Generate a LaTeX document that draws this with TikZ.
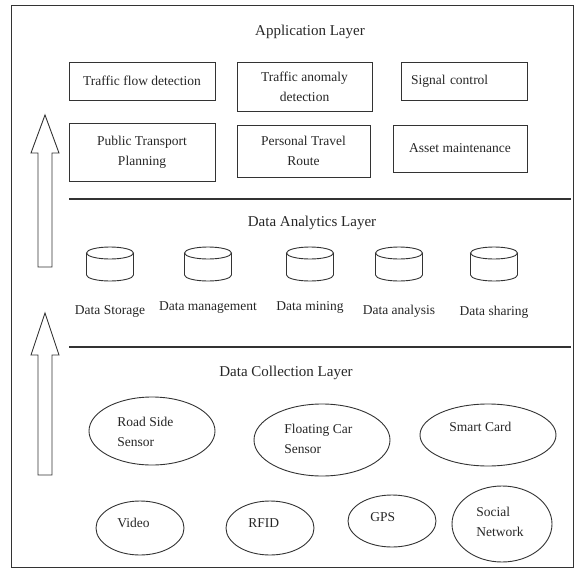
\documentclass[tikz,border=0pt]{standalone}
\usepackage{fontspec}
\setmainfont{Liberation Serif}
\usetikzlibrary{shapes.geometric}
\begin{document}
\begin{tikzpicture}[x=1pt,y=-1pt,line width=.9pt,draw=black!80,text=black!85,
  layer/.style={font=\fontsize{15}{18}\selectfont},
  item/.style={font=\fontsize{13.5}{20}\selectfont},
  appbox/.style={item,draw,rectangle,align=center,inner sep=2pt},
  source/.style={draw,ellipse,inner sep=0pt},
  tag/.style={item,inner sep=0pt,anchor=west,align=left}]
\useasboundingbox (0,0) rectangle (574,571);
\draw[line width=.8pt] (11,5) rectangle (573,567);
\node[layer] (applayer) at (310,32) {Application Layer};
\node[appbox,minimum width=146pt,minimum height=38pt] (flow) at (142,81) {Traffic flow detection};
\node[appbox,minimum width=135pt,minimum height=49pt] (anomaly) at (304.5,86.5) {Traffic anomaly\\detection};
\node[appbox,minimum height=38pt,align=left,inner xsep=10pt,text width=106pt] (signal) at (464,81) {Signal control};
\node[appbox,minimum width=146pt,minimum height=58pt] (transport) at (142,152) {Public Transport\\Planning};
\node[appbox,minimum width=133pt,minimum height=52pt] (route) at (303.5,151) {Personal Travel\\Route};
\node[appbox,minimum width=134pt,minimum height=47pt] (asset) at (460,148.5) {Asset maintenance};
\coordinate (sepA1) at (69,199);
\coordinate (sepA2) at (571,199);
\draw[line width=1.2pt] (sepA1) -- (sepA2);
\node[layer] (analayer) at (312,223) {Data Analytics Layer};
\foreach \x/\y/\n/\t in {110/311/storage/Data Storage,208/308/management/Data management,310/307/mining/Data mining,399/311/analysis/Data analysis,494/312/sharing/Data sharing}{
  \draw (\x-23.5,253) -- (\x-23.5,275) arc[start angle=180,end angle=360,x radius=23.5pt,y radius=6pt] -- (\x+23.5,253);
  \draw (\x,253) ellipse[x radius=23.5pt,y radius=6pt];
  \node[item] (\n) at (\x,\y) {\t};
}
\coordinate (sepB1) at (69,347);
\coordinate (sepB2) at (571,347);
\draw[line width=1.2pt] (sepB1) -- (sepB2);
\node[layer] (collayer) at (286,373) {Data Collection Layer};
\node[source,minimum width=126pt,minimum height=68pt] (roadside) at (152,431) {};
\node[source,minimum width=136pt,minimum height=72pt] (floating) at (322,440) {};
\node[source,minimum width=136pt,minimum height=62pt] (smartcard) at (488,435) {};
\node[source,minimum width=88pt,minimum height=54pt] (video) at (140,528) {};
\node[source,minimum width=88pt,minimum height=54pt] (rfid) at (270,528) {};
\node[source,minimum width=88pt,minimum height=52pt] (gps) at (392,521) {};
\node[source,minimum width=100pt,minimum height=76pt] (social) at (502,524) {};
\node[tag] (roadsidetxt) at (117,432) {Road Side\\Sensor};
\node[tag] (floatingtxt) at (284,439) {Floating Car\\Sensor};
\node[tag] (smartcardtxt) at (449,427) {Smart Card};
\node[tag] (videotxt) at (117,523) {Video};
\node[tag] (rfidtxt) at (248,523) {RFID};
\node[tag] (gpstxt) at (370,517) {GPS};
\node[tag] (socialtxt) at (476,522) {Social\\Network};
\draw (38,267) -- (38,153) -- (31,153) -- (45,115) -- (59,153) -- (52,153) -- (52,267) -- cycle;
\draw (38,475) -- (38,355) -- (31,355) -- (45,313) -- (59,355) -- (52,355) -- (52,475) -- cycle;
\end{tikzpicture}
\end{document}
